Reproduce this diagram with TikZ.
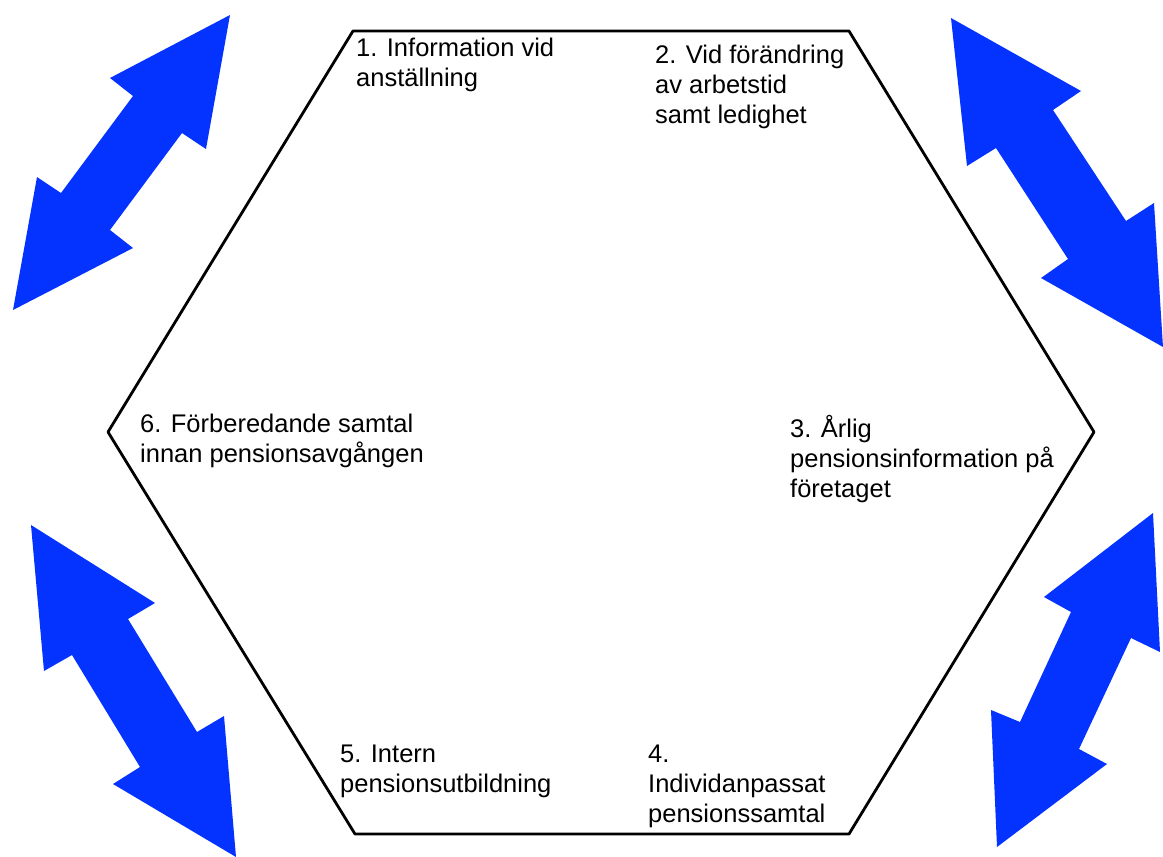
\documentclass[tikz,border=0pt]{standalone}
\usepackage{fontspec}
\setmainfont{Liberation Sans}
\usepackage{tikz}
\definecolor{arrowblue}{RGB}{4,51,255}
\tikzset{
	steptext/.style={anchor=base west, align=left, inner sep=0pt, font=\fontsize{25.5}{30}\selectfont},
	bigarrow/.style={fill=arrowblue, draw=none}
}

\begin{document}
\begin{tikzpicture}[x=1pt,y=-1pt]
	\useasboundingbox (0,0) rectangle (1163,857);
	
	%hexagon
	\draw[line width=2.8pt, line join=round] (353,31)--(849,31)--(1094,432)--(849,834)--(355,834)--(108,432)--cycle;
	
	%steps (placed at baseline of last line)
	\node[steptext] (s1) at (356,86) {1. Information vid\\anställning};
	\node[steptext] (s2) at (655,123) {2. Vid förändring\\av arbetstid\\samt ledighet};
	\node[steptext] (s3) at (790,497) {3. Årlig\\pensionsinformation på\\företaget};
	\node[steptext] (s4) at (648,822) {4.\\Individanpassat\\pensionssamtal};
	\node[steptext] (s5) at (340,792) {5. Intern\\pensionsutbildning};
	\node[steptext] (s6) at (140,462) {6. Förberedande samtal\\innan pensionsavgången};
	
	%arrows
	\fill[bigarrow] (230,15)--(206,149)--(182,133)--(110,230)--(133,248)--(13,310)--(37,177)--(61,193)--(133,96)--(110,78)--cycle;
	\fill[bigarrow] (951,18)--(1081,91)--(1053,110)--(1126,221)--(1154,203)--(1163,347)--(1041,278)--(1068,259)--(996,148)--(967,166)--cycle;
	\fill[bigarrow] (31,525)--(155,603)--(128,619)--(197,732)--(224,716)--(236,857)--(113,784)--(140,767)--(72,655)--(44,671)--cycle;
	\fill[bigarrow] (1153,513)--(1160,652)--(1131,638)--(1079,749)--(1107,764)--(997,847)--(991,710)--(1020,722)--(1071,612)--(1044,597)--cycle;
	
\end{tikzpicture}
\end{document}
